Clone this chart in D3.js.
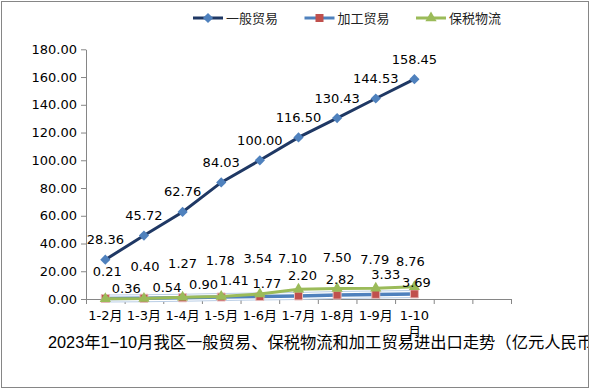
<!DOCTYPE html>
<html>
<head>
<meta charset="utf-8">
<script src="https://cdn.jsdelivr.net/npm/d3@7/dist/d3.min.js"></script>
<style>
  body { margin: 0; background: #fff; }
  svg text { font-family: "DejaVu Sans", "Noto Sans CJK SC", sans-serif; }
</style>
</head>
<body>
<div class="visHolder"></div>
<script>
// data (亿元人民币)
var months = ['1-2月', '1-3月', '1-4月', '1-5月', '1-6月', '1-7月', '1-8月', '1-9月', '1-10月'];
var emptySlots = 2;
var general = [28.36, 45.72, 62.76, 84.03, 100.00, 116.50, 130.43, 144.53, 158.45];
var processing = [0.36, 0.54, 0.90, 1.41, 1.77, 2.20, 2.82, 3.33, 3.69];
var bonded = [0.21, 0.40, 1.27, 1.78, 3.54, 7.10, 7.50, 7.79, 8.76];
var seriesNames = ['一般贸易', '加工贸易', '保税物流'];
var yTicks = [0, 20, 40, 60, 80, 100, 120, 140, 160, 180];
var title = '2023年1−10月我区一般贸易、保税物流和加工贸易进出口走势（亿元人民币）';

// label nudges [dx, dy] so the small series labels don't collide
var processingNudge = [[21, -6], [23, -6], [21, -9], [13, -12], [7, -9], [4, -16], [3, -11], [10, -15], [2, -7]];
var bondedNudge = [[2, -23], [1, -27], [0, -29], [-1, -32], [-2, -31], [-6, -26], [0, -27], [-1, -24], [-4, -21]];

var width = 598,
    height = 390,
    plotLeft = 86,
    plotRight = 511,
    plotTop = 49.3,
    plotBottom = 299,
    axisColor = '#868686';

var svg = d3.select('.visHolder')
    .append('svg')
    .attr('width', width)
    .attr('height', height);

svg.append('clipPath')
    .attr('id', 'frameClip')
    .append('rect')
    .attr('x', 1.5).attr('y', 1.5)
    .attr('width', 587).attr('height', 386);

var chart = svg.append('g').attr('clip-path', 'url(#frameClip)');

var xScale = d3.scaleLinear()
    .domain([0, months.length + emptySlots])
    .range([plotLeft, plotRight]);
var center = function (i) { return xScale(i + 0.5); };

var yScale = d3.scaleLinear().domain([0, 180]).range([plotBottom, plotTop]);

// y axis
var yAxis = d3.axisLeft(yScale)
    .tickValues(yTicks)
    .tickFormat(d3.format('.2f'))
    .tickSize(5)
    .tickSizeOuter(0)
    .tickPadding(4);

chart.append('g')
    .attr('transform', 'translate(' + plotLeft + ',0)')
    .call(yAxis)
    .call(function (g) {
        g.select('.domain').attr('stroke', axisColor);
        g.selectAll('.tick line').attr('stroke', axisColor);
        g.selectAll('.tick text').attr('fill', '#000').style('font-size', '13px');
    });

// x axis: ticks on category boundaries
var xAxis = d3.axisBottom(xScale)
    .tickValues(d3.range(0, months.length + emptySlots + 1))
    .tickFormat('')
    .tickSize(5)
    .tickSizeOuter(0);

chart.append('g')
    .attr('transform', 'translate(0,' + plotBottom + ')')
    .call(xAxis)
    .call(function (g) {
        g.select('.domain').attr('stroke', axisColor);
        g.selectAll('.tick line').attr('stroke', axisColor);
    });

var bandWidth = xScale(1) - xScale(0);
chart.append('g')
    .selectAll('text')
    .data(months)
    .enter()
    .append('text')
    .attr('x', function (d, i) { return center(i); })
    .attr('y', plotBottom + 21)
    .attr('text-anchor', 'middle')
    .style('font-size', '13px')
    .text(function (d) { return d; })
    .each(function (d, i) {
        var t = d3.select(this);
        if (this.getComputedTextLength() > bandWidth - 1) {
            t.text(null);
            t.append('tspan').attr('x', center(i)).text(d.slice(0, -1));
            t.append('tspan').attr('x', center(i)).attr('dy', 16).text(d.slice(-1));
        }
    });

// series
var line = d3.line()
    .x(function (d, i) { return center(i); })
    .y(function (d) { return yScale(d); });

var fmt = d3.format('.2f');

// 一般贸易
chart.append('path')
    .datum(general)
    .attr('fill', 'none')
    .attr('stroke', '#1f3864')
    .attr('stroke-width', 3)
    .attr('d', line);

var diamond = d3.symbol().type(d3.symbolSquare).size(52);
chart.append('g')
    .selectAll('path')
    .data(general)
    .enter()
    .append('path')
    .attr('d', diamond)
    .attr('fill', '#4f81bd')
    .attr('transform', function (d, i) {
        return 'translate(' + center(i) + ',' + yScale(d) + ') rotate(45)';
    });

// 加工贸易
chart.append('path')
    .datum(processing)
    .attr('fill', 'none')
    .attr('stroke', '#b9cde5')
    .attr('stroke-width', 8)
    .attr('d', line);
chart.append('path')
    .datum(processing)
    .attr('fill', 'none')
    .attr('stroke', '#fff')
    .attr('stroke-width', 6)
    .attr('d', line);
chart.append('path')
    .datum(processing)
    .attr('fill', 'none')
    .attr('stroke', '#4f81bd')
    .attr('stroke-width', 3.5)
    .attr('d', line);

var square = d3.symbol().type(d3.symbolSquare).size(64);
chart.append('g')
    .selectAll('path')
    .data(processing)
    .enter()
    .append('path')
    .attr('d', square)
    .attr('fill', '#c0504d')
    .attr('stroke', '#e6b9b8')
    .attr('stroke-width', 1)
    .attr('transform', function (d, i) {
        return 'translate(' + center(i) + ',' + yScale(d) + ')';
    });

// 保税物流
chart.append('path')
    .datum(bonded)
    .attr('fill', 'none')
    .attr('stroke', '#9bbb59')
    .attr('stroke-width', 3)
    .attr('d', line);

var triangle = d3.symbol().type(d3.symbolTriangle).size(55);
chart.append('g')
    .selectAll('path')
    .data(bonded)
    .enter()
    .append('path')
    .attr('d', triangle)
    .attr('fill', '#9bbb59')
    .attr('transform', function (d, i) {
        return 'translate(' + center(i) + ',' + yScale(d) + ')';
    });

// data labels
function addLabels(values, nudge) {
    chart.append('g')
        .selectAll('text')
        .data(values)
        .enter()
        .append('text')
        .attr('x', function (d, i) { return center(i) + nudge(i)[0]; })
        .attr('y', function (d, i) { return yScale(d) + nudge(i)[1]; })
        .attr('text-anchor', 'middle')
        .style('font-size', '13px')
        .attr('fill', '#000')
        .text(function (d) { return fmt(d); });
}
addLabels(general, function () { return [0, -15.5]; });
addLabels(bonded, function (i) { return bondedNudge[i]; });
addLabels(processing, function (i) { return processingNudge[i]; });

// legend
var legendColors = ['#1f3864', '#4f81bd', '#9bbb59'];
var legendMarkers = [diamond, square, triangle];
var legendFills = ['#4f81bd', '#c0504d', '#9bbb59'];
var legendX = d3.scalePoint().domain(seriesNames).range([193, 416]);

var legend = chart.append('g')
    .selectAll('g')
    .data(seriesNames)
    .enter()
    .append('g')
    .attr('transform', function (d) { return 'translate(' + legendX(d) + ',18)'; });

legend.append('line')
    .attr('x1', 0).attr('x2', 30)
    .attr('stroke', function (d, i) { return legendColors[i]; })
    .attr('stroke-width', 3);

legend.append('path')
    .attr('d', function (d, i) { return legendMarkers[i](); })
    .attr('fill', function (d, i) { return legendFills[i]; })
    .attr('transform', function (d, i) {
        return 'translate(15,0)' + (i === 0 ? ' rotate(45)' : '');
    });

legend.append('text')
    .attr('x', 33)
    .attr('dy', '0.36em')
    .style('font-size', '13px')
    .style('font-family', '"Noto Sans CJK SC", sans-serif')
    .attr('fill', '#222')
    .text(function (d) { return d; });

// title (runs past the frame and gets clipped, like the original)
chart.append('text')
    .attr('x', 48)
    .attr('y', 348)
    .style('font-size', '16.3px')
    .style('font-family', '"Liberation Sans", "Noto Sans CJK SC", sans-serif')
    .attr('fill', '#000')
    .text(title);

// frame
svg.append('rect')
    .attr('x', 1.5).attr('y', 1.5)
    .attr('width', 587).attr('height', 386)
    .attr('fill', 'none')
    .attr('stroke', axisColor);
</script>
</body>
</html>
